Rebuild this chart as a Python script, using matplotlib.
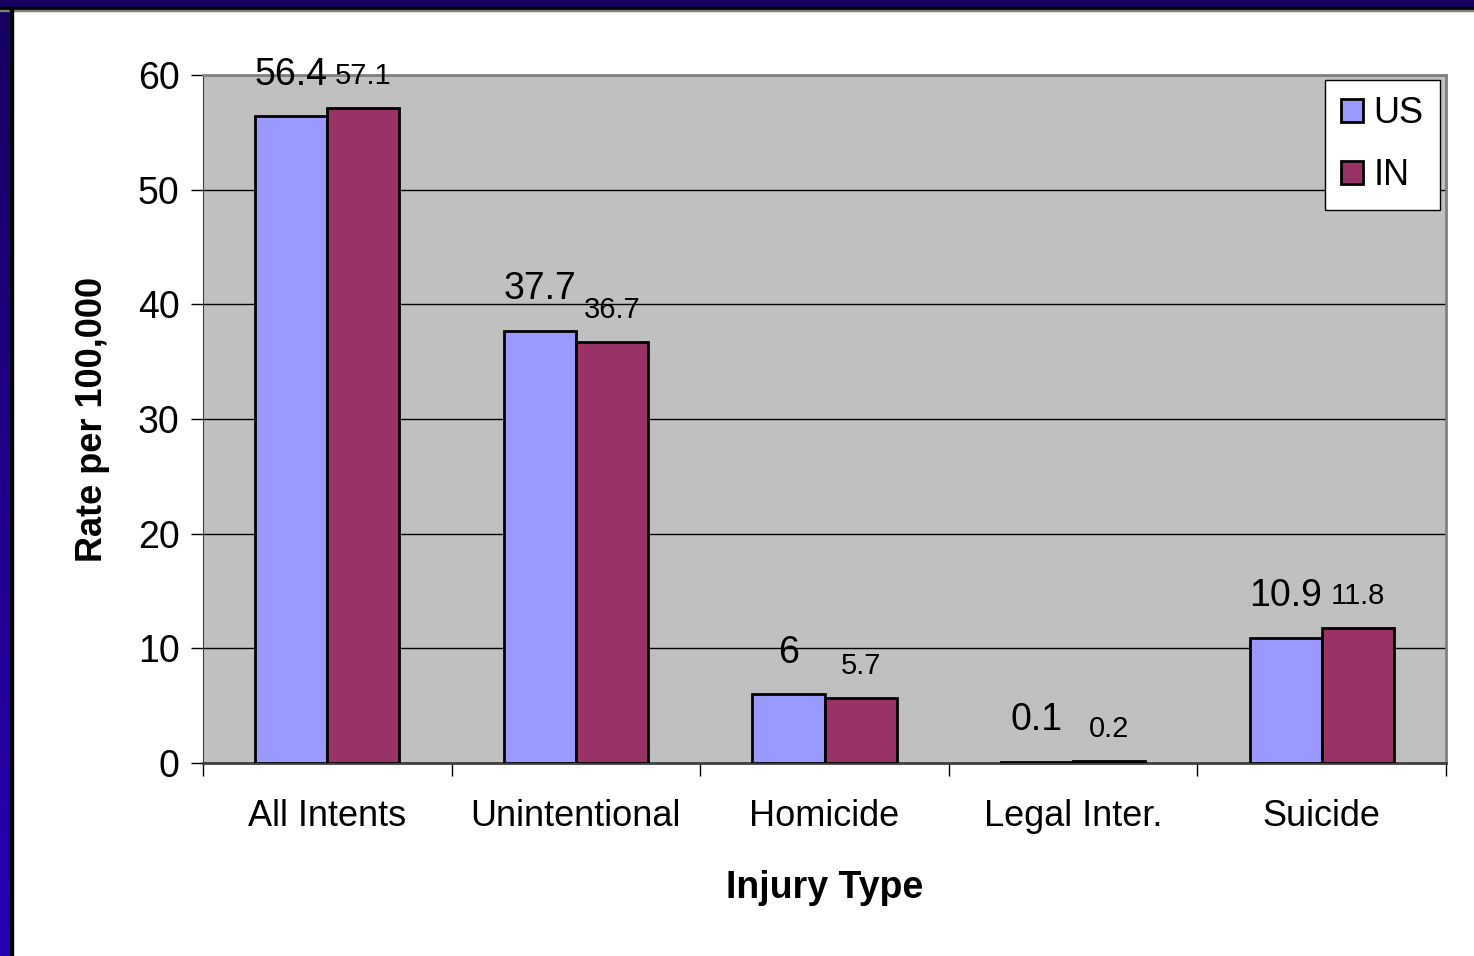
import numpy as np
import matplotlib.pyplot as plt
from matplotlib.patches import Rectangle

plt.rcParams['font.family'] = ['Liberation Sans', 'DejaVu Sans']

categories = ['All Intents', 'Unintentional', 'Homicide', 'Legal Inter.', 'Suicide']
us_rates = [56.4, 37.7, 6, 0.1, 10.9]
in_rates = [57.1, 36.7, 5.7, 0.2, 11.8]
us_labels = ['56.4', '37.7', '6', '0.1', '10.9']
in_labels = ['57.1', '36.7', '5.7', '0.2', '11.8']

W, H = 1474, 956
fig = plt.figure(figsize=(W / 100, H / 100), dpi=100)
fig.patch.set_facecolor('white')

# slide frame: navy strip on top, blue gradient on the left, black inner line
grad = fig.add_axes([0, 0, 10 / W, 1])
grad.imshow(np.linspace(0, 1, 200).reshape(-1, 1), aspect='auto', origin='upper',
            cmap=plt.matplotlib.colors.LinearSegmentedColormap.from_list(
                'f', ['#170060', '#2a00b4']), extent=[0, 1, 0, 1])
grad.set_axis_off()
fig.patches.append(Rectangle((0, 1 - 7 / H), 1, 7 / H, transform=fig.transFigure,
                             color='#170060', zorder=5))
fig.patches.append(Rectangle((0, 1 - 10 / H), 1, 3 / H, transform=fig.transFigure,
                             color='black', zorder=6))
fig.patches.append(Rectangle((0, 1 - 11 / H), 1, 1 / H, transform=fig.transFigure,
                             color='#808080', zorder=6))
fig.patches.append(Rectangle((10 / W, 0), 3 / W, 1 - 7 / H, transform=fig.transFigure,
                             color='black', zorder=6))

ax = fig.add_axes([203 / W, 1 - 763 / H, (1446 - 203) / W, (763 - 75) / H])
ax.set_facecolor('#c0c0c0')

x = np.arange(len(categories))
bw = 0.29
ax.bar(x - bw / 2, us_rates, bw, color='#9999ff', edgecolor='black',
       linewidth=2, label='US', zorder=3)
ax.bar(x + bw / 2, in_rates, bw, color='#993366', edgecolor='black',
       linewidth=2, label='IN', zorder=3)

for xi, v, s in zip(x, us_rates, us_labels):
    ax.annotate(s, (xi - bw / 2, v), xytext=(0, 17), textcoords='offset points',
                ha='center', va='bottom', fontsize=27, zorder=4)
for xi, v, s in zip(x, in_rates, in_labels):
    ax.annotate(s, (xi + bw / 2, v), xytext=(0, 13), textcoords='offset points',
                ha='center', va='bottom', fontsize=21, zorder=4)

ax.set_xlim(-0.5, len(categories) - 0.5)
ax.set_ylim(0, 60)
ax.set_yticks(range(0, 61, 10))
ax.yaxis.grid(True, color='black', linewidth=1, zorder=1)
ax.set_axisbelow(True)

ax.set_xticks(x)
ax.set_xticklabels(categories)
ax.set_xticks(np.arange(-0.5, len(categories), 1), minor=True)
ax.tick_params(axis='x', which='major', length=0, pad=26, labelsize=26)
ax.tick_params(axis='x', which='minor', length=9, width=1, direction='out')
ax.tick_params(axis='y', length=9, width=1, pad=8, labelsize=27)

for side in ['top', 'right']:
    ax.spines[side].set_color('#808080')
    ax.spines[side].set_linewidth(2)
ax.spines['left'].set_color('#404040')
ax.spines['bottom'].set_color('#404040')
ax.spines['bottom'].set_linewidth(2)

ax.set_ylabel('Rate per 100,000', fontsize=26, fontweight='bold', labelpad=20)
ax.set_xlabel('Injury Type', fontsize=27, fontweight='bold', labelpad=26)

leg = ax.legend(loc='upper right', bbox_to_anchor=(1440 / W, 1 - 80 / H),
                bbox_transform=fig.transFigure, fontsize=26, frameon=True,
                fancybox=False, handlelength=0.6, handleheight=0.6,
                handletextpad=0.3, borderpad=0.45, labelspacing=0.75,
                borderaxespad=0)
leg.get_frame().set_edgecolor('black')
leg.get_frame().set_linewidth(1)
leg.get_frame().set_alpha(1)

fig.savefig('out.png', dpi=100)
